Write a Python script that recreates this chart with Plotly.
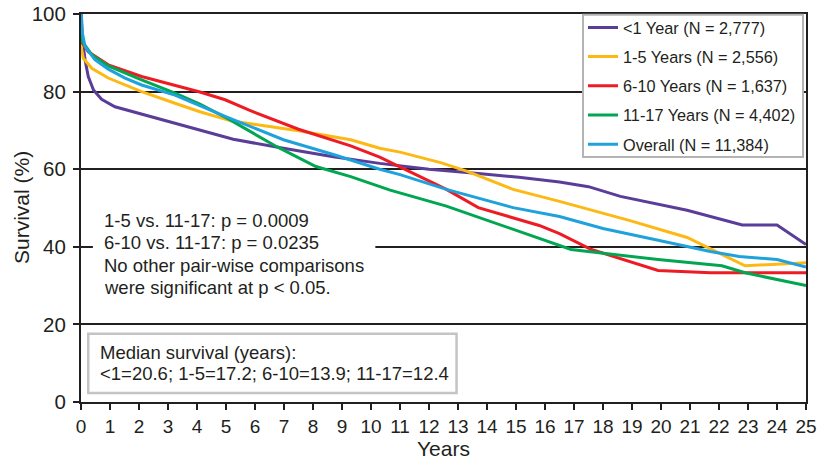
import plotly.graph_objects as go

# ---------------- data ----------------
names = ["<1 Year (N = 2,777)", "1-5 Years (N = 2,556)", "6-10 Years (N = 1,637)",
         "11-17 Years (N = 4,402)", "Overall (N = 11,384)"]
colors = ["#5a3d99", "#fdb913", "#ed1c24", "#00a651", "#1fa2dc"]

t_lt1 = [0, 0.01, 0.05, 0.14, 0.25, 0.43, 0.71, 1.17, 2.09, 2.76, 4.1, 5.25, 6.98, 8.7,
         10.3, 12.0, 13.7, 15.1, 16.5, 17.5, 18.6, 20.9, 22.8, 24.0, 25]
s_lt1 = [100, 97.6, 93.3, 88.2, 83.9, 80.4, 78, 76.1, 74.2, 72.9, 70.1, 67.7, 65.4, 63.2,
         61.5, 60, 58.9, 57.9, 56.7, 55.5, 53, 49.4, 45.6, 45.6, 40.6]

t_1_5 = [0, 0.02, 0.08, 0.37, 0.94, 2.09, 3.24, 4.1, 5.2, 7.5, 9.3, 10.3, 11.0, 12.4, 13.3,
         14.9, 16.5, 17.9, 18.9, 20.9, 22.9, 25]
s_1_5 = [100, 91, 88.6, 86, 83.5, 80, 77, 74.8, 72.4, 69.9, 67.6, 65.4, 64.4, 61.7, 59.5,
         54.8, 51.7, 48.8, 46.8, 42.4, 35.1, 35.9]

t_6_10 = [0, 0.01, 0.25, 0.94, 2.09, 3.24, 4.1, 4.97, 5.8, 7.5, 9.3, 10.3, 11.4, 12.6, 13.7,
          15.8, 16.5, 17.6, 19.9, 21.7, 25]
s_6_10 = [100, 92.9, 90.3, 86.9, 83.9, 81.7, 79.9, 77.9, 75.2, 70.3, 66, 63.1, 59.2, 54.8, 50.1,
          45.5, 43.4, 39.3, 33.9, 33.3, 33.3]

t_11_17 = [0, 0.01, 0.37, 0.94, 2.09, 3.24, 4.1, 5.14, 6.75, 8.1, 9.3, 10.3, 10.66, 12.6,
           14.9, 16.9, 19.9, 22.1, 22.9, 25]
s_11_17 = [100, 93.3, 89.5, 86.6, 83, 79.6, 76.8, 72.7, 65.8, 60.7, 58.1, 55.5, 54.6, 50.5,
           44.4, 39.3, 36.7, 35.1, 33.3, 30]

t_all = [0, 0.02, 0.05, 0.14, 0.48, 0.94, 1.52, 2.09, 3.24, 4.1, 4.97, 6.98, 8.7, 10.3, 11,
         12.6, 14.9, 16.5, 18, 19.9, 21.7, 22.7, 24, 25]
s_all = [100, 99, 95, 91.6, 88.2, 85.8, 83.5, 81.7, 79.1, 76.4, 73.6, 67.6, 63.8, 60, 58.6,
         54.8, 50.1, 47.8, 44.7, 41.7, 38.8, 37.5, 36.7, 34.8]

x_ticks = list(range(0, 26))
y_ticks = [0, 20, 40, 60, 80, 100]

pvalue_lines = ["1-5 vs. 11-17: p = 0.0009", "6-10 vs. 11-17: p = 0.0235",
                "No other pair-wise comparisons", "were significant at p < 0.05."]
median_lines = ["Median survival (years):", "<1=20.6; 1-5=17.2; 6-10=13.9; 11-17=12.4"]

# ---------------- figure ----------------
INK = "#231f20"
SANS = "Liberation Sans, Arial, Helvetica, sans-serif"
NARROW = "Liberation Sans Narrow, Arial Narrow, Liberation Sans, sans-serif"

series = [(t_lt1, s_lt1), (t_1_5, s_1_5), (t_6_10, s_6_10), (t_11_17, s_11_17), (t_all, s_all)]
fig = go.Figure()
for i, ((tx, sy), nm, col) in enumerate(zip(series, names, colors)):
    fig.add_trace(go.Scatter(x=tx, y=sy, mode="lines", name=nm, legendgroup=f"g{i}",
                             line=dict(color=col, width=3)))

# legend frame (white, grey border) drawn as a shape; the legend itself is transparent
fig.add_shape(type="rect", xref="paper", yref="paper",
              x0=(583 - 81) / 725, x1=(803 - 81) / 725,
              y0=(401.7 - 157) / 387.5, y1=(401.7 - 15) / 387.5,
              fillcolor="white", line=dict(color="#b4b4b4", width=2), layer="above")
# white box behind the p-value text
fig.add_shape(type="rect", x0=0.41, x1=10.15, y0=27, y1=50, xref="x", yref="y",
              fillcolor="white", line=dict(width=0), layer="above")
# median survival box
fig.add_shape(type="rect", x0=0.25, x1=12.95, y0=2.3, y1=17.6, xref="x", yref="y",
              fillcolor="white", line=dict(color="#c4c4c4", width=2.5), layer="above")

for txt, yv in zip(pvalue_lines, [46.7, 41.0, 35.3, 29.5]):
    fig.add_annotation(x=0.74, y=yv, xref="x", yref="y", text=txt, showarrow=False,
                       xanchor="left", yanchor="middle",
                       font=dict(family=SANS, size=18.5, color=INK))
for txt, yv in zip(median_lines, [12.65, 7.3]):
    fig.add_annotation(x=0.6, y=yv, xref="x", yref="y", text=txt, showarrow=False,
                       xanchor="left", yanchor="middle",
                       font=dict(family=SANS, size=18.5, color=INK))

# y-axis title as a rotated annotation
fig.add_annotation(x=(21 - 81) / 725, y=0.5, xref="paper", yref="paper",
                   text="Survival (%)", textangle=-90, showarrow=False,
                   xanchor="center", yanchor="middle",
                   font=dict(family=SANS, size=21, color=INK))

fig.update_layout(
    width=823, height=460,
    margin=dict(l=81, r=17, t=14, b=58, autoexpand=False),
    plot_bgcolor="white", paper_bgcolor="white",
    font=dict(family=SANS, color=INK),
    showlegend=True,
    legend=dict(x=(583 - 81) / 725, y=(401.7 - 10.5) / 387.5, xanchor="left", yanchor="top",
                bgcolor="rgba(0,0,0,0)", borderwidth=0,
                font=dict(family=SANS, size=16.3, color=INK),
                traceorder="grouped", tracegroupgap=5),
    xaxis=dict(range=[0, 25], tickmode="array", tickvals=x_ticks,
               ticktext=[str(v) for v in x_ticks], automargin=False,
               showline=True, linecolor=INK, linewidth=2, mirror=True,
               ticks="outside", ticklen=6, tickwidth=1.5, tickcolor=INK,
               showgrid=False, zeroline=False,
               tickfont=dict(family=NARROW, size=19, color=INK),
               title=dict(text="Years", font=dict(family=NARROW, size=21, color=INK), standoff=8)),
    yaxis=dict(range=[0, 100], tickmode="array", tickvals=y_ticks,
               ticktext=[str(v) for v in y_ticks], automargin=False,
               showline=True, linecolor=INK, linewidth=2, mirror=True,
               ticks="outside", ticklen=6, tickwidth=1.5, tickcolor=INK,
               showgrid=True, gridcolor=INK, gridwidth=2, zeroline=False,
               tickfont=dict(family=SANS, size=20.5, color=INK), ticklabelstandoff=3),
)

fig.write_html("out.html")
